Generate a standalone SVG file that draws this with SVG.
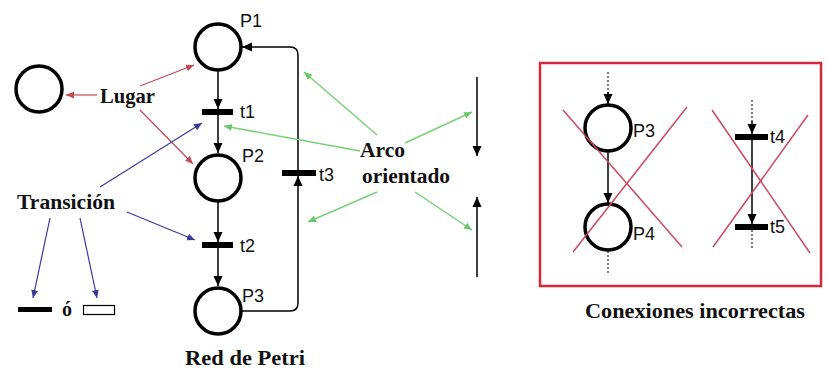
<svg xmlns="http://www.w3.org/2000/svg" width="826" height="371" viewBox="0 0 826 371">
<style>
.place{fill:none;stroke:#000;stroke-width:3.5}
.bar{fill:#000}
.arc{fill:none;stroke:#000;stroke-width:1.5}
.dot{fill:none;stroke:#000;stroke-width:1;stroke-dasharray:2,2}
.red{fill:none;stroke:#c04a55;stroke-width:1.2}
.blue{fill:none;stroke:#3a3a9c;stroke-width:1.2}
.green{fill:none;stroke:#7ad07a;stroke-width:1.5}
.cross{fill:none;stroke:#c84a60;stroke-width:1.5}
.lbl{font-family:"Liberation Serif",serif;font-weight:bold;font-size:20px;fill:#111}
.nm{font-family:"Liberation Sans",Arial,sans-serif;font-size:18px;fill:#111}
</style>
<defs>
<marker id="ab" markerUnits="userSpaceOnUse" markerWidth="10" markerHeight="10" refX="10" refY="5" orient="auto"><path d="M0,0.5 L10,5 L0,9.5 z" fill="#000"/></marker>
<marker id="ar" markerUnits="userSpaceOnUse" markerWidth="8" markerHeight="8" refX="8" refY="4" orient="auto"><path d="M0,0.5 L8,4 L0,7.5 z" fill="#c04a55"/></marker>
<marker id="abl" markerUnits="userSpaceOnUse" markerWidth="8" markerHeight="8" refX="8" refY="4" orient="auto"><path d="M0,0.5 L8,4 L0,7.5 z" fill="#3a3a9c"/></marker>
<marker id="ag" markerUnits="userSpaceOnUse" markerWidth="8" markerHeight="8" refX="8" refY="4" orient="auto"><path d="M0,0.5 L8,4 L0,7.5 z" fill="#6cc86c"/></marker>
</defs>
<rect width="826" height="371" fill="#fff"/>

<g id="place-legend"><circle class="place" cx="39" cy="89" r="23"/></g>
<g id="P1"><circle class="place" cx="218" cy="47" r="23"/><text class="nm" x="240" y="27">P1</text></g>
<g id="t1"><rect class="bar" x="202" y="109" width="31" height="6"/><text class="nm" x="240" y="118">t1</text></g>
<g id="P2"><circle class="place" cx="218" cy="178" r="23"/><text class="nm" x="242" y="162">P2</text></g>
<g id="t2"><rect class="bar" x="202" y="242" width="31" height="6"/><text class="nm" x="240" y="252">t2</text></g>
<g id="P3"><circle class="place" cx="218" cy="311" r="23"/><text class="nm" x="242" y="302">P3</text></g>
<g id="t3"><rect class="bar" x="282" y="170" width="34" height="6"/><text class="nm" x="319" y="181">t3</text></g>
<g id="trans-legend"><rect class="bar" x="18" y="307" width="34" height="5"/><text class="lbl" x="62" y="316" font-size="15">ó</text><rect x="83.5" y="305.5" width="31" height="9" fill="none" stroke="#000" stroke-width="1.2"/></g>

<g id="labels">
<text class="lbl" x="100" y="103" textLength="55" lengthAdjust="spacingAndGlyphs">Lugar</text>
<text class="lbl" x="17" y="209" textLength="98" lengthAdjust="spacingAndGlyphs">Transición</text>
<text class="lbl" x="360" y="157" textLength="45" lengthAdjust="spacingAndGlyphs">Arco</text>
<text class="lbl" x="362" y="183" textLength="88" lengthAdjust="spacingAndGlyphs">orientado</text>
<text class="lbl" x="185" y="365" textLength="120" lengthAdjust="spacingAndGlyphs">Red de Petri</text>
<text class="lbl" x="585" y="318" textLength="220" lengthAdjust="spacingAndGlyphs">Conexiones incorrectas</text>
</g>

<g id="connectors">
<line class="arc" x1="218" y1="71" x2="218" y2="109" marker-end="url(#ab)"/>
<line class="arc" x1="218" y1="115" x2="218" y2="153" marker-end="url(#ab)"/>
<line class="arc" x1="218" y1="202" x2="218" y2="242" marker-end="url(#ab)"/>
<line class="arc" x1="218" y1="248" x2="218" y2="286" marker-end="url(#ab)"/>
<path class="arc" d="M241,311 H290 Q298,311 298,303 V176" marker-end="url(#ab)"/>
<path class="arc" d="M298,170 V55 Q298,47 290,47 H242" marker-end="url(#ab)"/>
<line class="arc" x1="477" y1="77" x2="477" y2="156" marker-end="url(#ab)"/>
<line class="arc" x1="477" y1="277" x2="477" y2="197" marker-end="url(#ab)"/>

<line class="red" x1="97" y1="95" x2="66" y2="95" marker-end="url(#ar)"/>
<line class="red" x1="140" y1="86" x2="194" y2="65" marker-end="url(#ar)"/>
<line class="red" x1="140" y1="110" x2="193" y2="164" marker-end="url(#ar)"/>

<line class="blue" x1="100" y1="187" x2="202" y2="123" marker-end="url(#abl)"/>
<line class="blue" x1="50" y1="218" x2="33" y2="298" marker-end="url(#abl)"/>
<line class="blue" x1="80" y1="218" x2="97" y2="298" marker-end="url(#abl)"/>
<line class="blue" x1="127" y1="212" x2="195" y2="240" marker-end="url(#abl)"/>

<line class="green" x1="360" y1="151" x2="224" y2="126" marker-end="url(#ag)"/>
<line class="green" x1="377" y1="135" x2="304" y2="72" marker-end="url(#ag)"/>
<line class="green" x1="405" y1="143" x2="472" y2="112" marker-end="url(#ag)"/>
<line class="green" x1="377" y1="192" x2="308" y2="222" marker-end="url(#ag)"/>
<line class="green" x1="415" y1="192" x2="472" y2="230" marker-end="url(#ag)"/>
</g>

<g id="incorrect-panel">
<rect x="540" y="63" width="281" height="223" fill="none" stroke="#d02a3c" stroke-width="2.5"/>
<g id="P3b"><circle class="place" cx="608" cy="128" r="23"/><text class="nm" x="633" y="137">P3</text></g>
<g id="P4"><circle class="place" cx="608" cy="227" r="23"/><text class="nm" x="633" y="240">P4</text></g>
<g id="t4"><rect class="bar" x="735" y="134" width="33" height="6"/><text class="nm" x="770" y="143">t4</text></g>
<g id="t5"><rect class="bar" x="735" y="224" width="33" height="6"/><text class="nm" x="770" y="233">t5</text></g>
<line class="dot" x1="608" y1="72" x2="608" y2="95"/>
<line class="arc" x1="608" y1="92" x2="608" y2="104" marker-end="url(#ab)"/>
<line class="arc" x1="608" y1="152" x2="608" y2="203" marker-end="url(#ab)"/>
<line class="dot" x1="608" y1="251" x2="608" y2="273"/>
<line class="dot" x1="752" y1="100" x2="752" y2="124"/>
<line class="arc" x1="752" y1="121" x2="752" y2="134" marker-end="url(#ab)"/>
<line class="arc" x1="752" y1="140" x2="752" y2="224" marker-end="url(#ab)"/>
<line class="dot" x1="752" y1="230" x2="752" y2="248"/>
<line class="cross" x1="563" y1="110" x2="682" y2="247"/>
<line class="cross" x1="573" y1="252" x2="687" y2="107"/>
<line class="cross" x1="712" y1="110" x2="810" y2="253"/>
<line class="cross" x1="713" y1="247" x2="808" y2="115"/>
</g>
</svg>
